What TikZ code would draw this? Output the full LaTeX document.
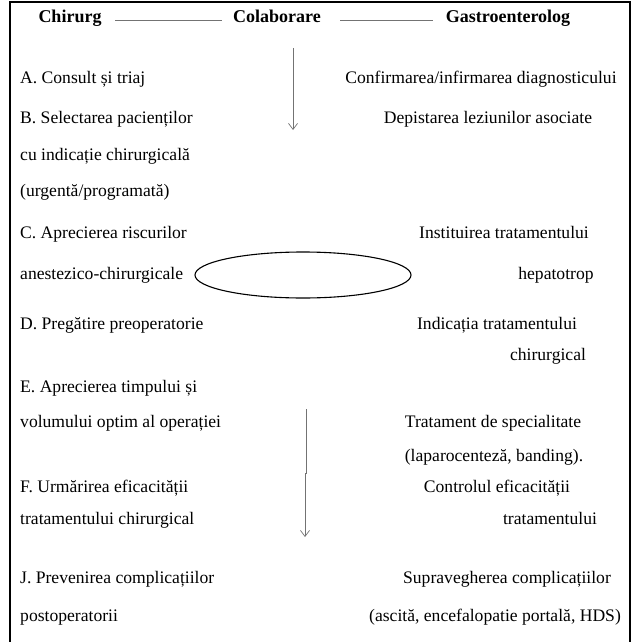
\documentclass[tikz,border=0pt]{standalone}
\usepackage{fontspec}
\setmainfont{Liberation Serif}
\usetikzlibrary{arrows.meta}
\begin{document}
\begin{tikzpicture}[x=1pt,y=-1pt,
  txt/.style={font=\fontsize{17.6}{19}\selectfont, inner sep=0pt},
  lft/.style={txt, anchor=mid west},
  rgt/.style={txt, anchor=mid},
  hdr/.style={font=\fontsize{18}{20}\selectfont\bfseries, inner sep=0pt, anchor=mid},
  conn/.style={draw=black!55, line width=0.8pt},
  arr/.style={conn, -{Straight Barb[length=6pt,width=9pt,line width=0.7pt]}}]
\useasboundingbox (0,0) rectangle (635,642);
\draw[line width=1.2pt] (10,642) -- (10,2) -- (630,2) -- (630,642);
% header
\node[hdr] (chir) at (70,20) {Chirurg};
\node[hdr] (colab) at (277,20) {Colaborare};
\node[hdr] (gastro) at (508,20) {Gastroenterolog};
\coordinate (l1a) at (115,20); \coordinate (l1b) at (222,20);
\coordinate (l2a) at (340,20); \coordinate (l2b) at (433,20);
\draw[conn] (l1a) -- (l1b);
\draw[conn] (l2a) -- (l2b);
% left column
\node[lft] (a) at (20,81) {A. Consult și triaj};
\node[lft] (b1) at (20,121) {B. Selectarea pacienților};
\node[lft] (b2) at (20,158) {cu indicație chirurgicală};
\node[lft] (b3) at (20,194) {(urgentă/programată)};
\node[lft] (c1) at (20,236) {C. Aprecierea riscurilor};
\node[lft] (c2) at (20,277) {anestezico-chirurgicale};
\node[lft] (d) at (20,327) {D. Pregătire preoperatorie};
\node[lft] (e1) at (20,390) {E. Aprecierea timpului și};
\node[lft] (e2) at (20,425) {volumului optim al operației};
\node[lft] (f1) at (20,490) {F. Urmărirea eficacității};
\node[lft] (f2) at (20,522) {tratamentului chirurgical};
\node[lft] (j1) at (20,581) {J. Prevenirea complicațiilor};
\node[lft] (j2) at (20,619) {postoperatorii};
% right column
\node[rgt] (r1) at (481,81) {Confirmarea/infirmarea diagnosticului};
\node[rgt] (r2) at (488,121) {Depistarea leziunilor asociate};
\node[rgt] (r3) at (504,236) {Instituirea tratamentului};
\node[rgt] (r4) at (556,277) {hepatotrop};
\node[rgt] (r5) at (497,327) {Indicația tratamentului};
\node[rgt] (r6) at (548,358) {chirurgical};
\node[rgt] (r7) at (493,425) {Tratament de specialitate};
\node[rgt] (r8) at (494,459) {(laparocenteză, banding).};
\node[rgt] (r9) at (497,490) {Controlul eficacității};
\node[rgt] (r10) at (550,522) {tratamentului};
\node[rgt] (r11) at (507,581) {Supravegherea complicațiilor};
\node[rgt] (r12) at (495,619) {(ascită, encefalopatie portală, HDS)};
% arrows and ellipse
\coordinate (ar1s) at (293,48); \coordinate (ar1e) at (293,130);
\draw[arr] (ar1s) -- (ar1e);
\coordinate (ar2s) at (306,409); \coordinate (k1) at (306,473);
\coordinate (k2) at (305,473); \coordinate (ar2e) at (305,537);
\draw[arr] (ar2s) -- (k1) -- (k2) -- (ar2e);
\draw[line width=1.1pt] (303,275) ellipse [x radius=108, y radius=23];
\end{tikzpicture}
\end{document}
